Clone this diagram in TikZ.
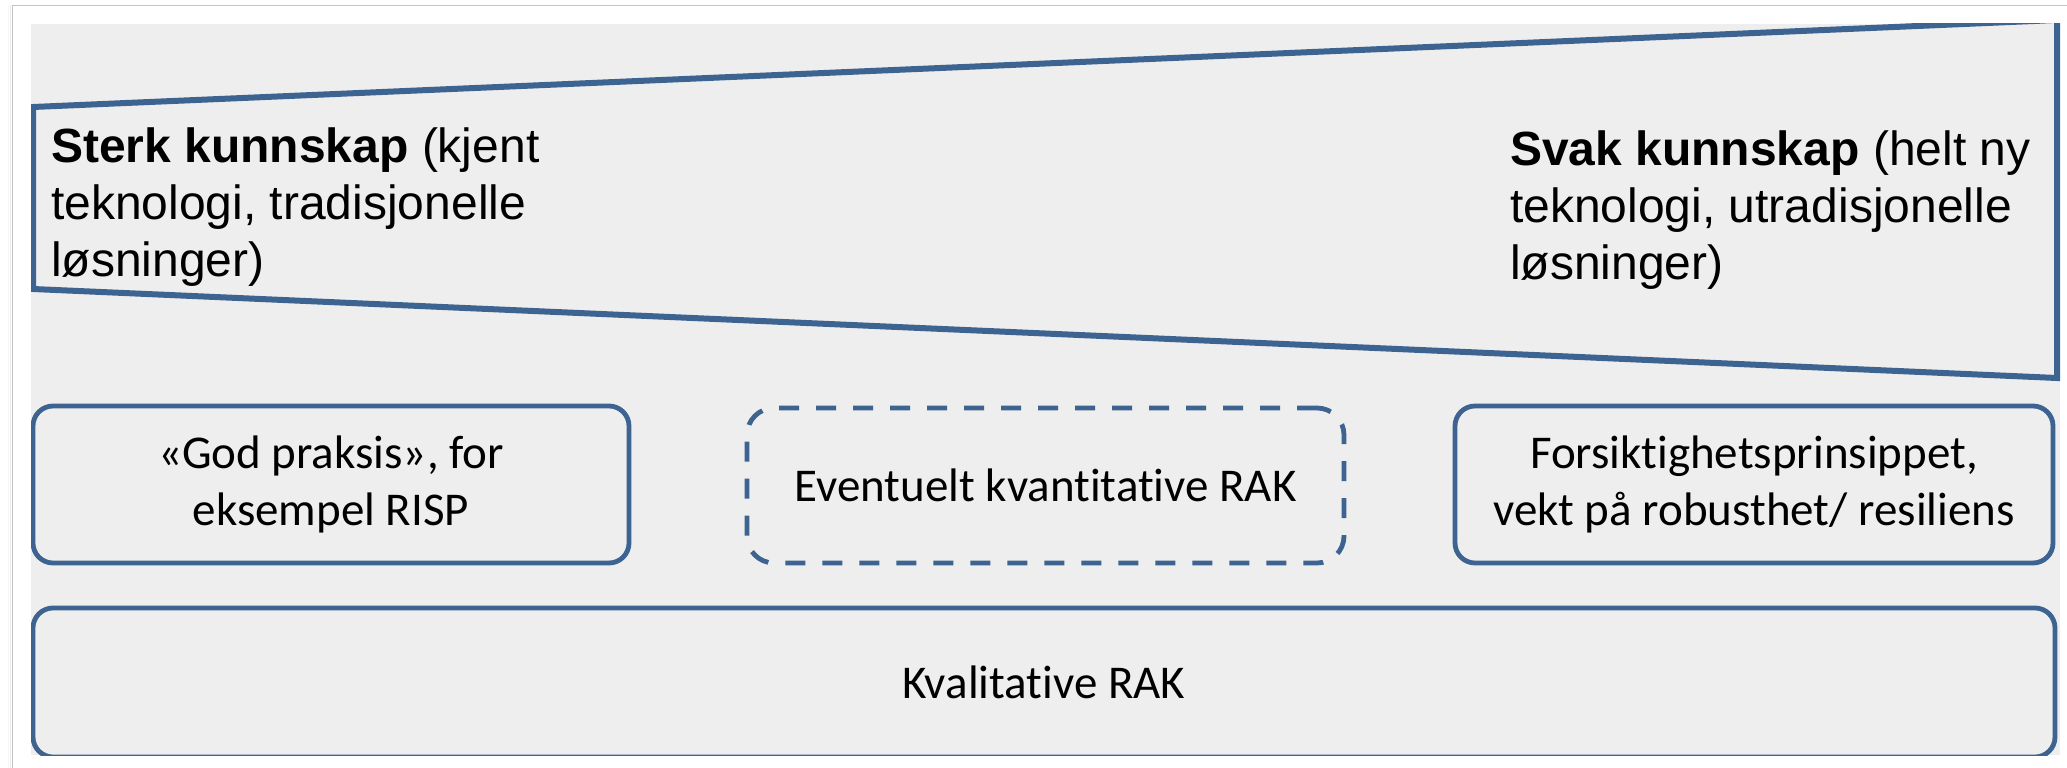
\documentclass[tikz,border=0pt]{standalone}
\usepackage{fontspec}
\setmainfont{Carlito}[Ligatures={NoCommon}]
\newfontfamily\arialfont{Liberation Sans}
\definecolor{boxblue}{HTML}{3D6391}
\definecolor{panelgray}{HTML}{EEEEEE}
\definecolor{framegray}{HTML}{C4C4C4}
\tikzset{
  solidbox/.style={draw=boxblue, line width=4.8pt, rounded corners=20pt, align=center,
    inner sep=0pt, font=\fontsize{47}{57}\selectfont},
  dashbox/.style={draw=boxblue, line width=4.8pt, rounded corners=27pt, align=center,
    inner sep=0pt, dash pattern=on 20pt off 17pt, font=\fontsize{47}{57}\selectfont},
  trapline/.style={draw=boxblue, line width=6pt, line join=miter},
  knowtext/.style={anchor=north west, align=left, inner sep=0pt,
    font=\arialfont\fontsize{48}{57}\selectfont}
}
\begin{document}
\begin{tikzpicture}[x=1pt,y=-1pt]
\useasboundingbox (0,0) rectangle (2067,768);
\fill[white] (0,0) rectangle (2067,768);
% page frame with soft left shadow
\draw[line width=1pt, black!4] (8,5) -- (8,768);
\draw[line width=1pt, black!8] (10.5,5) -- (10.5,768);
\draw[line width=1.5pt, framegray] (12.7,768) -- (12.7,5.3) -- (2067,5.3);
% grey panel
\fill[panelgray] (31,24) rectangle (2060,755);
\begin{scope}
\clip (31,24) rectangle (2060,755);
% knowledge band
\coordinate (tl) at (33,107);
\coordinate (tr) at (2057,20);
\coordinate (br) at (2057,378);
\coordinate (bl) at (33,289);
\draw[trapline] (tl) -- (tr) -- (br) -- (bl) -- cycle;
\node[knowtext] (strong) at (51,128) {\textbf{Sterk kunnskap} (kjent\\teknologi, tradisjonelle\\løsninger)};
\node[knowtext] (weak) at (1510,131) {\textbf{Svak kunnskap} (helt ny\\teknologi, utradisjonelle\\løsninger)};
% method boxes
\node[solidbox, minimum width=596pt, minimum height=157pt] (gp) at (331,484.5) {«God praksis», for\\eksempel RISP};
\node[dashbox, minimum width=597pt, minimum height=155pt] (kv) at (1045.5,485.5) {Eventuelt kvantitative RAK};
\node[solidbox, minimum width=598pt, minimum height=157pt] (fp) at (1754,484.5) {Forsiktighetsprinsippet,\\vekt på robusthet/ resiliens};
\node[solidbox, minimum width=2022pt, minimum height=149pt] (kl) at (1044,682.5) {Kvalitative RAK};
\end{scope}
\end{tikzpicture}
\end{document}
